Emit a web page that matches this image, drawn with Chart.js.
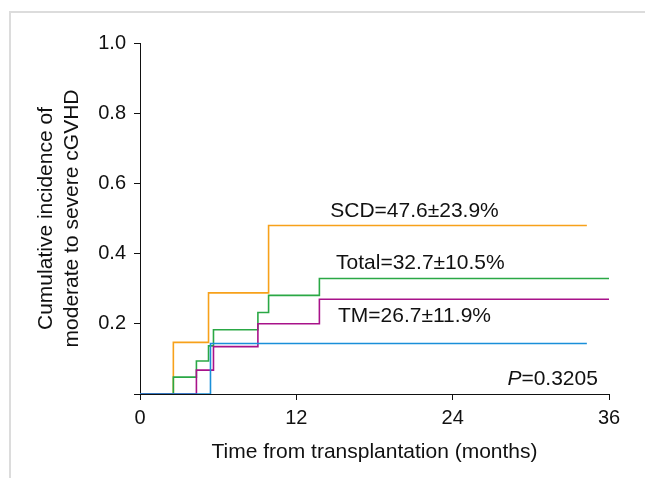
<!DOCTYPE html>
<html>
<head>
<meta charset="utf-8">
<script src="https://cdn.jsdelivr.net/npm/chart.js@4/dist/chart.umd.min.js"></script>
<style>
    html, body { margin: 0; padding: 0; background: #fff; }
    #wrap { position: relative; width: 645px; height: 478px; overflow: hidden; }
    #frame { position: absolute; left: 9px; top: 11px; width: 700px; height: 500px;
             border-left: 2px solid #dcdcdc; border-top: 2px solid #dcdcdc; }
    #chart { position: absolute; left: 0; top: 0; }
</style>
</head>
<body>
<div id="wrap">
    <div id="frame"></div>
    <canvas id="chart" width="645" height="478"></canvas>
</div>
<script>
// Step data (months, cumulative incidence)
const scdTimes = [0, 2.56, 5.26, 9.87, 34.3];
const scdValues = [0, 0.147, 0.288, 0.48, 0.48];

const totalTimes = [0, 2.56, 4.33, 5.26, 5.64, 9.05, 9.87, 13.77, 36];
const totalValues = [0, 0.048, 0.094, 0.137, 0.183, 0.232, 0.281, 0.329, 0.329];

const tmTimes = [0, 4.33, 5.64, 9.05, 13.77, 36];
const tmValues = [0, 0.068, 0.135, 0.2, 0.27, 0.27];

const otherTimes = [0, 5.41, 34.3];
const otherValues = [0, 0.144, 0.144];

const xTicks = [0, 12, 24, 36];
const yTicks = [0, 0.2, 0.4, 0.6, 0.8, 1.0];

const labels = ['SCD=47.6±23.9%', 'Total=32.7±10.5%', 'TM=26.7±11.9%'];
const pLabel = '0.3205';

const FONT = "'Liberation Sans', Arial, sans-serif";

const toPoints = (xs, ys) => xs.map((x, i) => ({ x: x, y: ys[i] }));

function stepSet(xs, ys, color) {
    return {
        data: toPoints(xs, ys),
        borderColor: color,
        borderWidth: 1.6,
        stepped: 'before',
        pointRadius: 0,
        fill: false
    };
}

// Text annotations
const annotations = {
    id: 'annotations',
    afterDatasetsDraw(chart) {
        const { ctx, scales: { x, y } } = chart;
        ctx.save();
        ctx.fillStyle = '#111';
        ctx.textBaseline = 'middle';
        ctx.textAlign = 'left';
        ctx.font = '21px ' + FONT;
        ctx.fillText(labels[0], x.getPixelForValue(14.6), y.getPixelForValue(0.52));
        ctx.fillText(labels[1], x.getPixelForValue(15.05), y.getPixelForValue(0.374));
        ctx.fillText(labels[2], x.getPixelForValue(15.2), y.getPixelForValue(0.221));
        const px = x.getPixelForValue(28.2);
        const py = y.getPixelForValue(0.043);
        ctx.font = 'italic 21px ' + FONT;
        ctx.fillText('P', px, py);
        const w = ctx.measureText('P').width;
        ctx.font = '21px ' + FONT;
        ctx.fillText('=' + pLabel, px + w, py);
        ctx.restore();
    }
};

new Chart(document.getElementById('chart').getContext('2d'), {
    type: 'line',
    data: {
        datasets: [
            stepSet(otherTimes, otherValues, '#1a8fd9'),
            stepSet(tmTimes, tmValues, '#a8128a'),
            stepSet(totalTimes, totalValues, '#2aa845'),
            stepSet(scdTimes, scdValues, '#f7a11a')
        ]
    },
    options: {
        responsive: false,
        animation: false,
        layout: { padding: { left: 0, top: 43, right: 36, bottom: 0 } },
        plugins: { legend: { display: false }, tooltip: { enabled: false } },
        scales: {
            x: {
                type: 'linear',
                min: 0,
                max: 36,
                afterFit: (s) => { s.height = 84; },
                afterBuildTicks: (s) => { s.ticks = xTicks.map(v => ({ value: v })); },
                grid: { drawOnChartArea: false, drawTicks: true, tickLength: 6, color: '#111', lineWidth: 1 },
                border: { color: '#111', width: 1 },
                ticks: { color: '#111', font: { size: 20, family: FONT }, padding: 6, maxRotation: 0 },
                title: {
                    display: true,
                    text: 'Time from transplantation (months)',
                    color: '#111',
                    font: { size: 21, family: FONT, lineHeight: 1.2 },
                    padding: { top: 0, bottom: 13 }
                }
            },
            y: {
                min: 0,
                max: 1,
                afterFit: (s) => { s.width = 140; },
                afterBuildTicks: (s) => { s.ticks = yTicks.map(v => ({ value: v })); },
                grid: { drawOnChartArea: false, drawTicks: true, tickLength: 6, color: '#111', lineWidth: 1 },
                border: { color: '#111', width: 1 },
                ticks: {
                    color: '#111',
                    font: { size: 20, family: FONT },
                    padding: 8,
                    // the 0 tick has no label in the original
                    callback: (v) => (v === 0 ? '' : Number(v).toFixed(1))
                },
                title: {
                    display: true,
                    text: ['Cumulative incidence of', 'moderate to severe cGVHD'],
                    color: '#111',
                    font: { size: 21, family: FONT, lineHeight: 1.2 },
                    padding: { top: 34, bottom: 0 }
                }
            }
        }
    },
    plugins: [annotations]
});
</script>
</body>
</html>
